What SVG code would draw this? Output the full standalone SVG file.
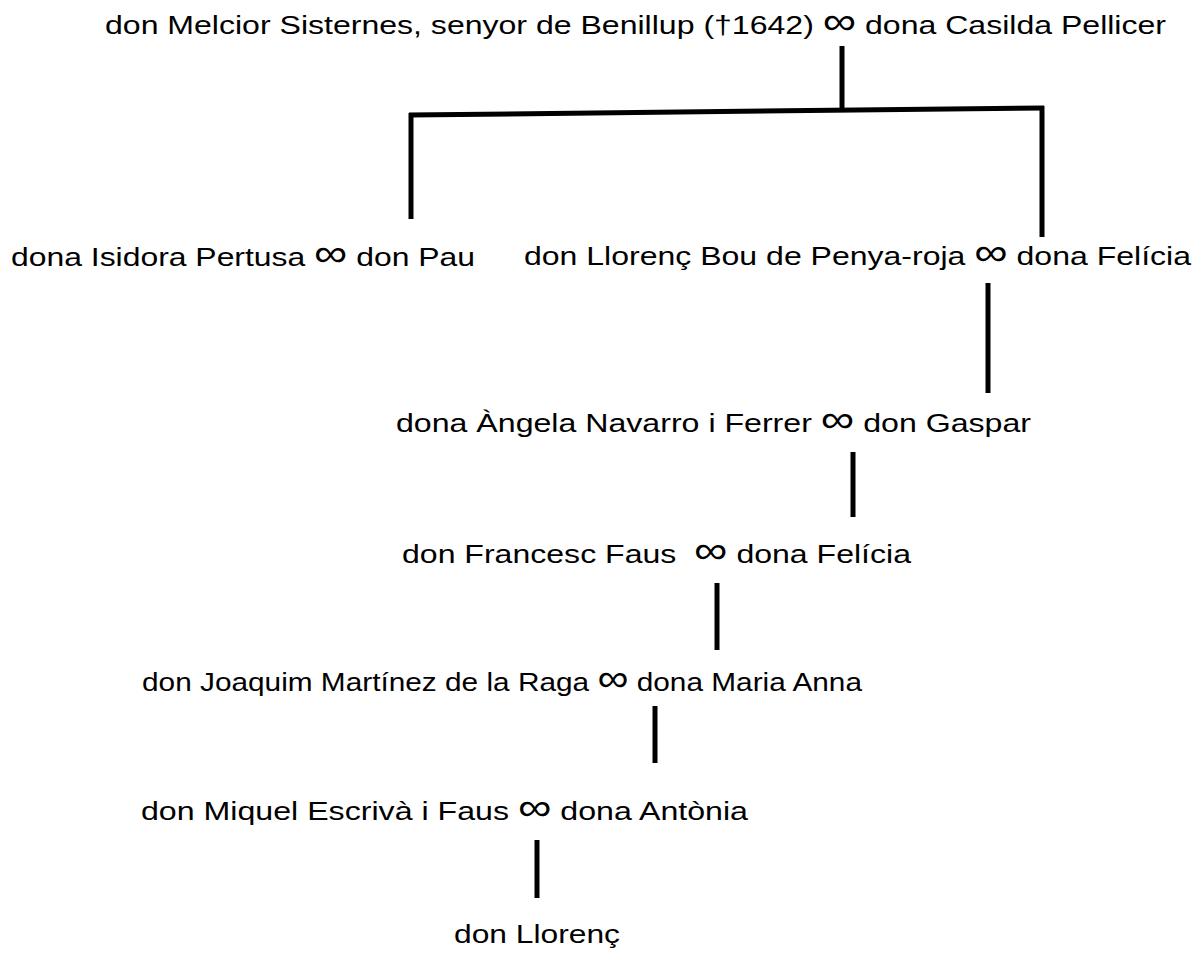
<svg xmlns="http://www.w3.org/2000/svg" width="1198" height="953" viewBox="0 0 1198 953">
<style>
text{font-family:"Liberation Sans",Arial,"Noto Sans","DejaVu Sans",sans-serif;font-size:26px;fill:#000}
.m{font-size:38px}
.c line{stroke:#000;stroke-width:5;stroke-linecap:butt}
</style>
<rect width="1198" height="953" fill="#fff"/>
<g id="n1"><text x="105" y="34" textLength="1061" lengthAdjust="spacingAndGlyphs">don Melcior Sisternes, senyor de Benillup (†1642) <tspan class="m">∞</tspan> dona Casilda Pellicer</text></g>
<g id="n2"><text x="11" y="266" textLength="464" lengthAdjust="spacingAndGlyphs">dona Isidora Pertusa <tspan class="m">∞</tspan> don Pau</text></g>
<g id="n3"><text x="524" y="265" textLength="667" lengthAdjust="spacingAndGlyphs">don Llorenç Bou de Penya-roja <tspan class="m">∞</tspan> dona Felícia</text></g>
<g id="n4"><text x="396" y="432" textLength="635" lengthAdjust="spacingAndGlyphs">dona Àngela Navarro i Ferrer <tspan class="m">∞</tspan> don Gaspar</text></g>
<g id="n5"><text x="402" y="563" textLength="509" lengthAdjust="spacingAndGlyphs" xml:space="preserve" style="white-space:pre">don Francesc Faus  <tspan class="m">∞</tspan> dona Felícia</text></g>
<g id="n6"><text x="142" y="691" textLength="720" lengthAdjust="spacingAndGlyphs">don Joaquim Martínez de la Raga <tspan class="m">∞</tspan> dona Maria Anna</text></g>
<g id="n7"><text x="141" y="820" textLength="607" lengthAdjust="spacingAndGlyphs">don Miquel Escrivà i Faus <tspan class="m">∞</tspan> dona Antònia</text></g>
<g id="n8"><text x="454" y="943" textLength="166" lengthAdjust="spacingAndGlyphs">don Llorenç</text></g>
<g id="connectors" class="c">
<line x1="842" y1="46" x2="842" y2="110"/>
<line x1="409" y1="115" x2="1044" y2="108"/>
<line x1="411" y1="113" x2="411" y2="219"/>
<line x1="1042" y1="106" x2="1042" y2="237"/>
<line x1="988" y1="283" x2="988" y2="393"/>
<line x1="853" y1="452" x2="853" y2="517"/>
<line x1="717" y1="583" x2="717" y2="650"/>
<line x1="655" y1="706" x2="655" y2="763"/>
<line x1="537" y1="840" x2="537" y2="898"/>
</g>
</svg>
